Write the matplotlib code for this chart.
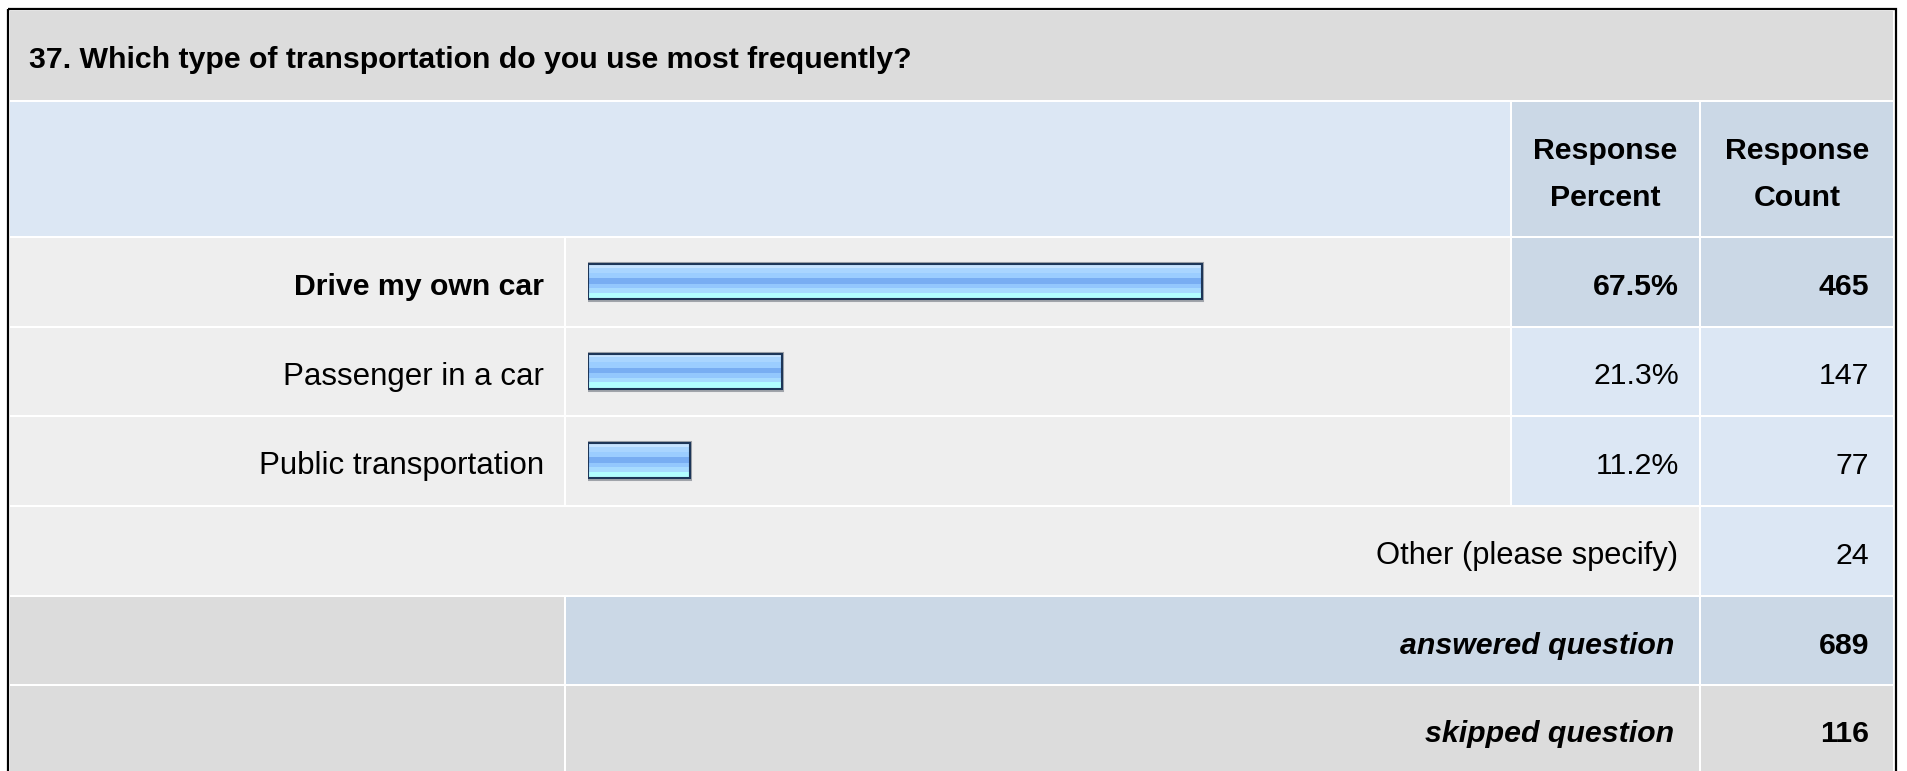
import matplotlib
matplotlib.use("Agg")
import matplotlib.pyplot as plt
from matplotlib.patches import Rectangle

# ---------------- data ----------------
title = "37. Which type of transportation do you use most frequently?"
categories = ["Drive my own car", "Passenger in a car", "Public transportation"]
percents = [67.5, 21.3, 11.2]
counts = [465, 147, 77]
header_percent = ["Response", "Percent"]
header_count = ["Response", "Count"]
other_label = "Other (please specify)"
other_count = 24
answered_label = "answered question"
answered_count = 689
skipped_label = "skipped question"
skipped_count = 116

# ---------------- style ----------------
W, H = 1907, 771
FONT = "Liberation Sans"
FS = 21.8
FS_LABEL = 22.5
TITLE_BG = "#dcdcdc"
HEAD_BG = "#dce7f4"
HEAD_DARK = "#cbd8e6"
ROW_BG = "#eeeeee"
CELL_BLUE = "#dce7f4"
SUM_GRAY = "#dcdcdc"
BAR_EDGE = "#1d3658"
BAR_BANDS = [  # (top fraction, bottom fraction, colour) from top to bottom
    (0.00, 0.11, "#c6e3ff"),
    (0.11, 0.26, "#a9d5ff"),
    (0.26, 0.42, "#9bcdff"),
    (0.42, 0.57, "#78adf2"),
    (0.57, 0.70, "#93c7fd"),
    (0.70, 0.83, "#a7dbff"),
    (0.83, 1.00, "#b2feff"),
]

# column edges (pixels)
A0, A1 = 10, 564
B0, B1 = 566, 1510
C0, C1 = 1512, 1699
D0, D1 = 1701, 1893
# row edges
ROWS = {
    "title": (11, 100),
    "head": (102, 236),
    "r0": (238, 326),
    "r1": (328, 415),
    "r2": (417, 505),
    "other": (507, 595),
    "ans": (597, 684),
    "skip": (686, 780),
}
BAR_X0 = 588
BAR_FULL = 909  # pixels for 100 %

fig = plt.figure(figsize=(W / 100, H / 100), dpi=100)
fig.patch.set_facecolor("white")
ax = fig.add_axes([0, 0, 1, 1])
ax.set_xlim(0, W)
ax.set_ylim(H, 0)
ax.axis("off")


def cell(x0, x1, row, color):
    y0, y1 = ROWS[row]
    ax.add_patch(Rectangle((x0, y0), x1 - x0, y1 - y0, facecolor=color,
                           edgecolor="none", zorder=1))


def base(row):
    y0, y1 = ROWS[row]
    return (y0 + min(y1, 771)) / 2 + 13


def txt(x, y, s, ha="right", weight="normal", style="normal", size=FS):
    ax.text(x, y, s, ha=ha, va="baseline", fontsize=size, family=FONT,
            fontweight=weight, fontstyle=style, color="black", zorder=5)


# title
cell(A0, D1, "title", TITLE_BG)
txt(29, base("title") - 1, title, ha="left", weight="bold")

# header
cell(A0, B1, "head", HEAD_BG)
cell(C0, C1, "head", HEAD_DARK)
cell(D0, D1, "head", HEAD_DARK)
cx_c = (C0 + C1) / 2
cx_d = (D0 + D1) / 2
txt(cx_c, 159, header_percent[0], ha="center", weight="bold")
txt(cx_c, 206, header_percent[1], ha="center", weight="bold")
txt(cx_d, 159, header_count[0], ha="center", weight="bold")
txt(cx_d, 206, header_count[1], ha="center", weight="bold")

# answer rows
top = max(range(len(percents)), key=lambda i: percents[i])
row_keys = ["r0", "r1", "r2"]
for i, (cat, p, c) in enumerate(zip(categories, percents, counts)):
    rk = row_keys[i]
    hi = (i == top)
    cell(A0, A1, rk, ROW_BG)
    cell(B0, B1, rk, ROW_BG)
    cell(C0, C1, rk, HEAD_DARK if hi else CELL_BLUE)
    cell(D0, D1, rk, HEAD_DARK if hi else CELL_BLUE)
    w = "bold" if hi else "normal"
    b = base(rk)
    txt(544, b, cat, weight=w, size=FS if hi else FS_LABEL)
    txt(1679, b, f"{p:.1f}%", weight=w)
    txt(1869, b, f"{c}", weight=w)

# other row
cell(A0, C1, "other", ROW_BG)
cell(D0, D1, "other", CELL_BLUE)
txt(1678, base("other"), other_label, size=22.2)
txt(1869, base("other"), f"{other_count}")

# answered
cell(A0, A1, "ans", SUM_GRAY)
cell(B0, C1, "ans", HEAD_DARK)
cell(D0, D1, "ans", HEAD_DARK)
txt(1674, base("ans"), answered_label, weight="bold", style="italic")
txt(1869, base("ans"), f"{answered_count}", weight="bold")

# skipped
cell(A0, A1, "skip", SUM_GRAY)
cell(B0, C1, "skip", SUM_GRAY)
cell(D0, D1, "skip", SUM_GRAY)
txt(1674, 742, skipped_label, weight="bold", style="italic")
txt(1869, 742, f"{skipped_count}", weight="bold")

# outer border
ax.add_patch(Rectangle((7.5, 8.5), 1888, 800, facecolor="none",
                       edgecolor="black", linewidth=1.6, zorder=6))

# ---------------- bars ----------------
bx = fig.add_axes([BAR_X0 / W, 0, BAR_FULL / W, 1])
bx.set_xlim(0, 100)
bx.set_ylim(H, 0)
bx.axis("off")
bx.patch.set_alpha(0)
BAR_H = 35
for i, p in enumerate(percents):
    y0, y1 = ROWS[row_keys[i]]
    yc = (y0 + y1) / 2 - 0.5
    # faint outer shadow
    bx.barh(yc, p, height=BAR_H + 2, left=0, color="none",
            edgecolor="#a0a4aa", linewidth=2.2, zorder=2)
    for f0, f1, col in BAR_BANDS:
        ymid = yc - BAR_H / 2 + (f0 + f1) / 2 * BAR_H
        bx.barh(ymid, p, height=(f1 - f0) * BAR_H + 0.6, left=0, color=col,
                linewidth=0, zorder=3)
    bx.barh(yc, p, height=BAR_H, left=0, color="none",
            edgecolor=BAR_EDGE, linewidth=1.5, zorder=4)

fig.savefig("out.png", dpi=100, facecolor="white")
